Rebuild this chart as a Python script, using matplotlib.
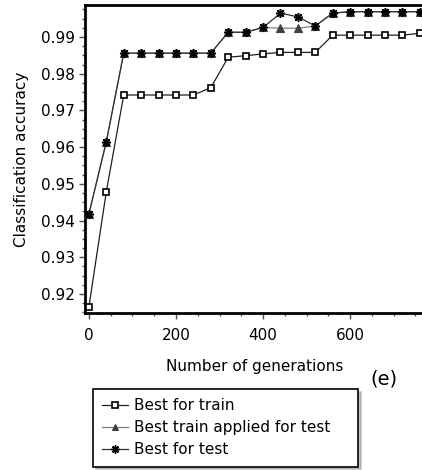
import matplotlib
matplotlib.use("Agg")
import matplotlib.pyplot as plt
from matplotlib.ticker import MultipleLocator, FixedLocator

plt.rcParams['font.family'] = ['DejaVu Sans']

generations = [0, 40, 80, 120, 160, 200, 240, 280, 320, 360,
               400, 440, 480, 520, 560, 600, 640, 680, 720, 760]
best_for_train = [0.9165, 0.9479, 0.9742, 0.9742, 0.9742, 0.9742, 0.9742, 0.9762, 0.9845, 0.9849,
                  0.9854, 0.9858, 0.9858, 0.9858, 0.9905, 0.9905, 0.9905, 0.9905, 0.9905, 0.9910]
best_train_applied_test = [0.9418, 0.9615, 0.9856, 0.9856, 0.9856, 0.9856, 0.9856, 0.9856, 0.9913, 0.9913,
                           0.9926, 0.9924, 0.9924, 0.9930, 0.9965, 0.9969, 0.9969, 0.9969, 0.9969, 0.9969]
best_for_test = [0.9418, 0.9615, 0.9856, 0.9856, 0.9856, 0.9856, 0.9856, 0.9856, 0.9913, 0.9913,
                 0.9926, 0.9965, 0.9955, 0.9930, 0.9965, 0.9969, 0.9969, 0.9969, 0.9969, 0.9969]
series_labels = ["Best for train", "Best train applied for test", "Best for test"]
x_ticks = [0, 200, 400, 600]
y_ticks = [0.92, 0.93, 0.94, 0.95, 0.96, 0.97, 0.98, 0.99]

W, H = 422, 470
fig = plt.figure(figsize=(W / 100, H / 100), dpi=100)
left, right, top, bottom = 85, 425, 5, 313
ax = fig.add_axes([left / W, 1 - bottom / H, (right - left) / W, (bottom - top) / H])

l1, = ax.plot(generations, best_for_train, color='#202020', lw=0.9, marker='s',
              ms=4.6, mfc='white', mec='black', mew=1.2, zorder=3)
l2, = ax.plot(generations, best_train_applied_test, color='#808080', lw=0.9, marker='^',
              ms=5.5, mfc='#404040', mec='#404040', mew=0.8, zorder=4)
l3, = ax.plot(generations, best_for_test, color='#303030', lw=0.9, marker=(8, 2, 0),
              ms=6.5, mfc='black', mec='black', mew=1.1, zorder=5)

ax.set_xlim(-9, 772)
ax.set_ylim(0.9148, 0.99872)

ax.xaxis.set_major_locator(FixedLocator(x_ticks))
ax.xaxis.set_minor_locator(MultipleLocator(50))
ax.yaxis.set_major_locator(FixedLocator(y_ticks))
ax.yaxis.set_minor_locator(MultipleLocator(0.0025))
ax.set_yticklabels([f"{v:.2f}" for v in y_ticks])
ax.set_xticklabels([str(v) for v in x_ticks])

ax.tick_params(which='major', direction='out', length=4.5, width=1.0, color='#505050',
               labelsize=11)
ax.tick_params(axis='x', which='major', pad=6)
ax.tick_params(axis='y', which='major', pad=3)
ax.tick_params(which='minor', direction='out', length=2.5, width=1.0, color='#505050')

for side in ['left', 'bottom', 'top']:
    ax.spines[side].set_linewidth(2.0)
    ax.spines[side].set_color('black')
ax.spines['right'].set_visible(False)

ax.set_xlabel("Number of generations", fontsize=11, labelpad=12)
ax.set_ylabel("Classification accuracy", fontsize=11, labelpad=8)

fig.text(384 / W, 1 - 379 / H, "(e)", fontsize=14, ha='center', va='center')

leg = fig.legend([l1, l2, l3], series_labels, loc='upper left',
                 bbox_to_anchor=(93 / W, 1 - 466 / H, 265 / W, 77 / H), mode='expand',
                 fontsize=11, frameon=True, fancybox=False, shadow={'color': '#909090'},
                 edgecolor='black', handlelength=1.7, handletextpad=0.35,
                 labelspacing=0.45, borderpad=0.62, borderaxespad=0.0,
                 markerscale=0.9)
leg.get_frame().set_linewidth(1.2)

fig.savefig("out.png", dpi=100)
